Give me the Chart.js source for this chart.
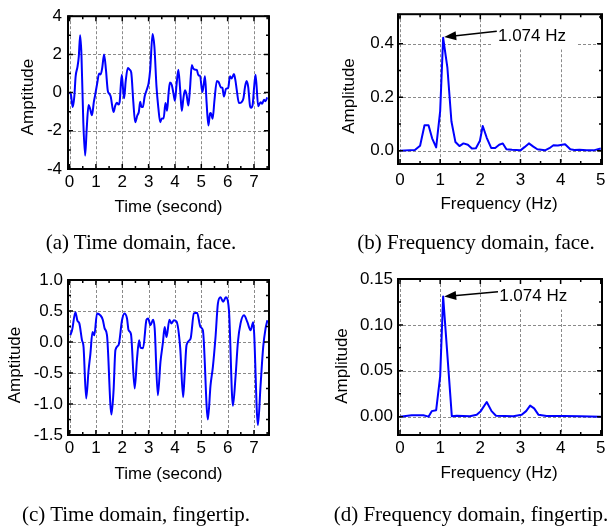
<!DOCTYPE html>
<html><head><meta charset="utf-8">
<script src="https://cdn.jsdelivr.net/npm/chart.js@4/dist/chart.umd.min.js"></script>
<style>
html,body{margin:0;padding:0;background:#fff;}
body{width:616px;height:531px;position:relative;overflow:hidden;}
canvas{position:absolute;left:0;top:0;}
.cap{position:absolute;font-family:"Liberation Serif","Times New Roman",serif;font-size:21px;line-height:1;color:#000;white-space:nowrap;transform:translateX(-50%);}
</style></head><body>
<canvas id="ca" width="616" height="531"></canvas>
<canvas id="cb" width="616" height="531"></canvas>
<canvas id="cc" width="616" height="531"></canvas>
<canvas id="cd" width="616" height="531"></canvas>
<div class="cap" style="left:141px;top:232px">(a) Time domain, face.</div>
<div class="cap" style="left:476px;top:232px">(b) Frequency domain, face.</div>
<div class="cap" style="left:136px;top:504px">(c) Time domain, fingertip.</div>
<div class="cap" style="left:471px;top:504px">(d) Frequency domain, fingertip.</div>
<script>
// ---------- data ----------
const faceT = [0.00,0.05,0.12,0.18,0.23,0.30,0.35,0.40,0.45,0.52,0.59,0.65,0.72,0.78,0.85,0.92,0.97,1.05,1.12,1.18,1.24,1.31,1.38,1.45,1.50,1.56,1.67,1.73,1.79,1.86,1.90,1.98,2.03,2.07,2.13,2.21,2.28,2.34,2.42,2.49,2.57,2.63,2.68,2.73,2.78,2.85,2.93,3.00,3.06,3.15,3.22,3.30,3.37,3.44,3.50,3.57,3.64,3.70,3.76,3.81,3.88,3.95,4.00,4.06,4.13,4.20,4.26,4.32,4.38,4.44,4.51,4.57,4.64,4.70,4.78,4.83,4.89,4.95,5.04,5.09,5.14,5.20,5.27,5.33,5.36,5.43,5.50,5.59,5.66,5.74,5.80,5.86,5.94,6.02,6.09,6.15,6.24,6.30,6.34,6.43,6.53,6.60,6.66,6.72,6.78,6.85,6.89,6.95,7.00,7.06,7.16,7.25,7.31,7.38,7.44,7.50];
const faceAmp = [0.00,-0.10,-0.76,-0.20,0.85,1.35,1.90,3.00,2.00,-1.50,-3.30,-1.90,-0.65,-0.85,-1.19,-0.50,-0.13,0.50,1.00,0.95,1.30,2.00,1.20,0.10,-0.05,-0.20,-1.02,-0.70,-0.53,-0.62,-0.50,0.93,0.20,-0.30,0.60,1.29,1.20,1.05,-0.50,-1.55,-1.20,-1.00,-0.48,-0.75,-0.76,-0.20,0.15,0.50,1.20,3.07,2.40,0.30,-0.80,-1.55,-1.35,-1.35,-0.55,-0.95,0.00,0.53,0.40,-0.10,-0.43,0.40,1.19,0.10,-0.96,-0.30,0.12,-0.10,-0.68,0.20,1.44,1.25,1.20,1.19,0.90,0.89,0.03,0.40,0.86,-0.50,-1.72,-1.10,-1.07,-1.37,-0.40,0.61,0.55,0.28,0.25,-0.21,0.20,0.25,0.86,0.74,0.97,0.60,0.20,-0.54,-0.50,-0.30,0.30,0.61,0.30,-0.70,-0.79,-0.63,0.20,0.94,-0.71,-0.50,-0.58,-0.38,-0.45,-0.25];

const faceFreq = [0,0.37,0.50,0.61,0.71,0.80,0.90,1.00,1.074,1.18,1.28,1.38,1.48,1.58,1.69,1.79,1.89,1.99,2.06,2.16,2.27,2.37,2.47,2.56,2.65,2.79,3.00,3.10,3.21,3.32,3.42,3.61,3.72,3.82,3.93,4.11,4.24,4.34,4.47,4.65,4.82,5.00];
const faceSpec = [0,0.002,0.018,0.095,0.095,0.046,0.012,0.148,0.422,0.31,0.11,0.032,0.017,0.027,0.022,0.008,0.009,0.037,0.092,0.048,0.010,0.010,0.022,0.027,0.005,0.003,0.001,0.013,0.027,0.015,0.005,0.001,0.009,0.020,0.019,0.024,0.005,0.002,0.003,0.001,0.001,0.008];

const tipT = [0.03,0.10,0.22,0.30,0.37,0.47,0.53,0.63,0.72,0.79,0.87,0.94,1.04,1.17,1.26,1.33,1.42,1.59,1.67,1.74,1.86,1.99,2.08,2.18,2.24,2.33,2.47,2.56,2.64,2.69,2.79,2.92,2.98,3.07,3.17,3.23,3.35,3.45,3.54,3.61,3.68,3.79,3.87,3.96,4.06,4.20,4.31,4.37,4.44,4.59,4.72,4.84,4.97,5.06,5.25,5.35,5.44,5.54,5.63,5.73,5.83,5.93,6.05,6.20,6.30,6.39,6.49,6.62,6.75,6.87,6.97,7.15,7.25,7.35,7.44,7.51];
const tipAmp = [0.11,0.20,0.48,0.34,0.30,0.03,-0.08,-0.91,-0.46,-0.19,0.16,0.11,0.46,0.43,0.36,0.22,0.11,-1.17,-0.78,-0.13,-0.05,0.35,0.46,0.38,0.19,0.13,-0.75,-0.27,0.03,-0.09,-0.10,0.36,0.38,0.27,0.36,0.22,-0.86,-0.32,-0.02,0.24,0.08,0.36,0.30,0.35,0.33,-0.10,-0.89,-0.51,-0.05,0.05,0.46,0.47,0.24,0.19,-1.25,-0.70,-0.40,0.08,0.62,0.72,0.65,0.72,0.51,-1.03,-0.56,0.00,0.30,0.43,0.32,0.19,0.32,-1.34,-0.70,-0.08,0.22,0.35];

const tipFreq = [0,0.29,0.58,0.71,0.79,0.90,1.00,1.074,1.29,1.41,1.74,1.91,2.01,2.16,2.28,2.39,2.82,3.03,3.14,3.24,3.34,3.45,3.65,4.07,4.49,5.00];
const tipSpec = [0,0.0015,0.0015,0,0.006,0.007,0.044,0.131,0.0005,0.001,0.0005,0.002,0.006,0.016,0.006,0.001,0.0004,0.002,0.006,0.012,0.009,0.002,0.0007,0.0007,0.0004,0];

const timeTicks = [0,1,2,3,4,5,6,7];
const timeTickLabels = ['0','1','2','3','4','5','6','7'];
const freqTicks = [0,1,2,3,4,5];
const freqTickLabels = ['0','1','2','3','4','5'];
const faceAmpTicks = [-4,-2,0,2,4];
const faceAmpLabels = ['-4','-2','0','2','4'];
const faceSpecTicks = [0,0.2,0.4];
const faceSpecLabels = ['0.0','0.2','0.4'];
const tipAmpTicks = [-1.5,-1.0,-0.5,0,0.5,1.0];
const tipAmpLabels = ['-1.5','-1.0','-0.5','0.0','0.5','1.0'];
const tipSpecTicks = [0,0.05,0.10,0.15];
const tipSpecLabels = ['0.00','0.05','0.10','0.15'];
const peakLabel = '1.074 Hz';

// ---------- drawing ----------
const FONT = '"Liberation Sans", Arial, sans-serif';
const YW = 60, XH = 40;

function decoPlugin(o){
  return {
    id: 'deco_' + o.id,
    beforeDatasetsDraw(chart){
      const {ctx, chartArea:a, scales:{x, y}} = chart;
      ctx.save();
      ctx.strokeStyle = '#8a8a8a'; ctx.lineWidth = 1; ctx.setLineDash([3,2]);
      o.xTicks.forEach(v => {
        const p = Math.round(x.getPixelForValue(v)) + 0.5;
        if (p > a.left + 1 && p < a.right - 1.5) { ctx.beginPath(); ctx.moveTo(p, a.top); ctx.lineTo(p, a.bottom); ctx.stroke(); }
      });
      o.yTicks.forEach(v => {
        const p = Math.round(y.getPixelForValue(v)) + 0.5;
        if (p > a.top + 1.5 && p < a.bottom - 1.5) { ctx.beginPath(); ctx.moveTo(a.left, p); ctx.lineTo(a.right, p); ctx.stroke(); }
      });
      ctx.setLineDash([]);
      if (o.note) {
        ctx.font = '17px ' + FONT;
        const tx = x.getPixelForValue(o.note.text[0]), ty = y.getPixelForValue(o.note.text[1]);
        const w = ctx.measureText(o.note.label).width;
        ctx.fillStyle = '#fff';
        ctx.fillRect(tx - 6, a.top + 1, w + 16, ty + 13 - a.top - 1);
      }
      ctx.restore();
    },
    afterDraw(chart){
      const {ctx, chartArea:a, scales:{x, y}} = chart;
      ctx.save();
      if (o.note) {
        const n = o.note;
        const tx = x.getPixelForValue(n.text[0]), ty = y.getPixelForValue(n.text[1]);
        const x1 = x.getPixelForValue(n.tail[0]), y1 = y.getPixelForValue(n.tail[1]);
        const x2 = x.getPixelForValue(n.tip[0]), y2 = y.getPixelForValue(n.tip[1]);
        const ang = Math.atan2(y2 - y1, x2 - x1), L = 12, H = 4.5;
        ctx.strokeStyle = '#000'; ctx.fillStyle = '#000'; ctx.lineWidth = 1.5;
        ctx.beginPath(); ctx.moveTo(x1, y1); ctx.lineTo(x2 - L * Math.cos(ang) * 0.8, y2 - L * Math.sin(ang) * 0.8); ctx.stroke();
        ctx.beginPath();
        ctx.moveTo(x2, y2);
        ctx.lineTo(x2 - L * Math.cos(ang) + H * Math.sin(ang), y2 - L * Math.sin(ang) - H * Math.cos(ang));
        ctx.lineTo(x2 - L * Math.cos(ang) - H * Math.sin(ang), y2 - L * Math.sin(ang) + H * Math.cos(ang));
        ctx.closePath(); ctx.fill();
        ctx.font = '17px ' + FONT; ctx.textAlign = 'left'; ctx.textBaseline = 'middle';
        ctx.fillText(n.label, tx, ty);
      }
      ctx.strokeStyle = '#000'; ctx.lineWidth = 2;
      ctx.strokeRect(a.left, a.top, a.right - a.left, a.bottom - a.top);
      ctx.lineWidth = 1.5;
      const tickX = (v, len) => { const p = x.getPixelForValue(v);
        ctx.beginPath(); ctx.moveTo(p, a.bottom); ctx.lineTo(p, a.bottom - len); ctx.moveTo(p, a.top); ctx.lineTo(p, a.top + len); ctx.stroke(); };
      const tickY = (v, len) => { const p = y.getPixelForValue(v);
        ctx.beginPath(); ctx.moveTo(a.left, p); ctx.lineTo(a.left + len, p); ctx.moveTo(a.right, p); ctx.lineTo(a.right - len, p); ctx.stroke(); };
      o.xTicks.forEach(v => tickX(v, 5));
      o.yTicks.forEach(v => tickY(v, 5));
      for (let v = o.xTicks[0] + o.xMinor; v <= x.max + 1e-9; v += o.xMinor * 2) tickX(v, 3);
      for (let v = o.yTicks[0] - o.yMinor; v >= y.min - 1e-9; v -= o.yMinor * 2) tickY(v, 3);
      for (let v = o.yTicks[0] + o.yMinor; v <= y.max + 1e-9; v += o.yMinor * 2) tickY(v, 3);
      ctx.fillStyle = '#000'; ctx.font = '17px ' + FONT; ctx.textAlign = 'center'; ctx.textBaseline = 'middle';
      ctx.fillText(o.xTitle, o.xTitlePos[0], o.xTitlePos[1]);
      ctx.translate(o.yTitlePos[0], o.yTitlePos[1]); ctx.rotate(-Math.PI / 2);
      ctx.fillText(o.yTitle, 0, 0);
      ctx.restore();
    }
  };
}

function makeChart(o){
  const a = o.area;
  return new Chart(document.getElementById(o.id), {
    type: 'line',
    data: { datasets: [{
      data: o.xs.map((v, i) => ({x: v, y: o.ys[i]})),
      borderColor: '#0000ff', borderWidth: 2, pointRadius: 0, fill: false,
      tension: o.smooth ? 0.4 : 0, cubicInterpolationMode: o.smooth ? 'monotone' : 'default',
      borderJoinStyle: 'round'
    }]},
    options: {
      responsive: false, animation: false, devicePixelRatio: 1,
      layout: { autoPadding: false, padding: { left: a[0] - YW, top: a[1], right: 616 - a[2], bottom: 531 - a[3] - XH } },
      plugins: { legend: {display: false}, tooltip: {enabled: false} },
      scales: {
        x: { type: 'linear', min: o.xMin, max: o.xMax,
          afterBuildTicks: s => { s.ticks = o.xTicks.map(v => ({value: v})); },
          afterFit: s => { s.height = XH; },
          grid: {display: false, drawTicks: false}, border: {display: false},
          ticks: { autoSkip: false, maxRotation: 0, minRotation: 0, padding: o.xPad, color: '#000',
            font: {family: FONT, size: 17}, callback: (v, i) => o.xLabels[i] } },
        y: { type: 'linear', min: o.yMin, max: o.yMax,
          afterBuildTicks: s => { s.ticks = o.yTicks.map(v => ({value: v})); },
          afterFit: s => { s.width = YW; },
          grid: {display: false, drawTicks: false}, border: {display: false},
          ticks: { autoSkip: false, padding: o.yPad, color: '#000',
            font: {family: FONT, size: 17}, callback: (v, i) => o.yLabels[i] } }
      }
    },
    plugins: [decoPlugin(o)]
  });
}

makeChart({ id: 'ca', area: [68, 8, 269, 169], xs: faceT, ys: faceAmp, smooth: true,
  xMin: -0.06, xMax: 7.57, yMin: -4, yMax: 4,
  xTicks: timeTicks, xLabels: timeTickLabels, yTicks: faceAmpTicks, yLabels: faceAmpLabels,
  xMinor: 0.5, yMinor: 1, xPad: 3, yPad: 6,
  xTitle: 'Time (second)', xTitlePos: [168.5, 207], yTitle: 'Amptitude', yTitlePos: [28, 97] });

makeChart({ id: 'cb', area: [398, 6, 602, 164], xs: faceFreq, ys: faceSpec, smooth: false,
  xMin: -0.05, xMax: 5.03, yMin: -0.05, yMax: 0.51,
  xTicks: freqTicks, xLabels: freqTickLabels, yTicks: faceSpecTicks, yLabels: faceSpecLabels,
  xMinor: 0.5, yMinor: 0.1, xPad: 6, yPad: 4,
  xTitle: 'Frequency (Hz)', xTitlePos: [499, 204], yTitle: 'Amplitude', yTitlePos: [349, 96],
  note: { label: peakLabel, tip: [1.10, 0.425], tail: [2.41, 0.446], text: [2.44, 0.427] } });

makeChart({ id: 'cc', area: [68, 280, 269, 435], xs: tipT, ys: tipAmp, smooth: true,
  xMin: -0.06, xMax: 7.57, yMin: -1.5, yMax: 1.0,
  xTicks: timeTicks, xLabels: timeTickLabels, yTicks: tipAmpTicks, yLabels: tipAmpLabels,
  xMinor: 0.5, yMinor: 0.25, xPad: 3, yPad: 5,
  xTitle: 'Time (second)', xTitlePos: [168.5, 474], yTitle: 'Amptitude', yTitlePos: [15, 365] });

makeChart({ id: 'cd', area: [398, 279, 602, 435], xs: tipFreq, ys: tipSpec, smooth: false,
  xMin: -0.05, xMax: 5.03, yMin: -0.02, yMax: 0.15,
  xTicks: freqTicks, xLabels: freqTickLabels, yTicks: tipSpecTicks, yLabels: tipSpecLabels,
  xMinor: 0.5, yMinor: 0.025, xPad: 3, yPad: 5,
  xTitle: 'Frequency (Hz)', xTitlePos: [499, 473], yTitle: 'Amplitude', yTitlePos: [342, 366],
  note: { label: peakLabel, tip: [1.10, 0.1308], tail: [2.44, 0.1362], text: [2.47, 0.1308] } });
</script>
</body></html>
